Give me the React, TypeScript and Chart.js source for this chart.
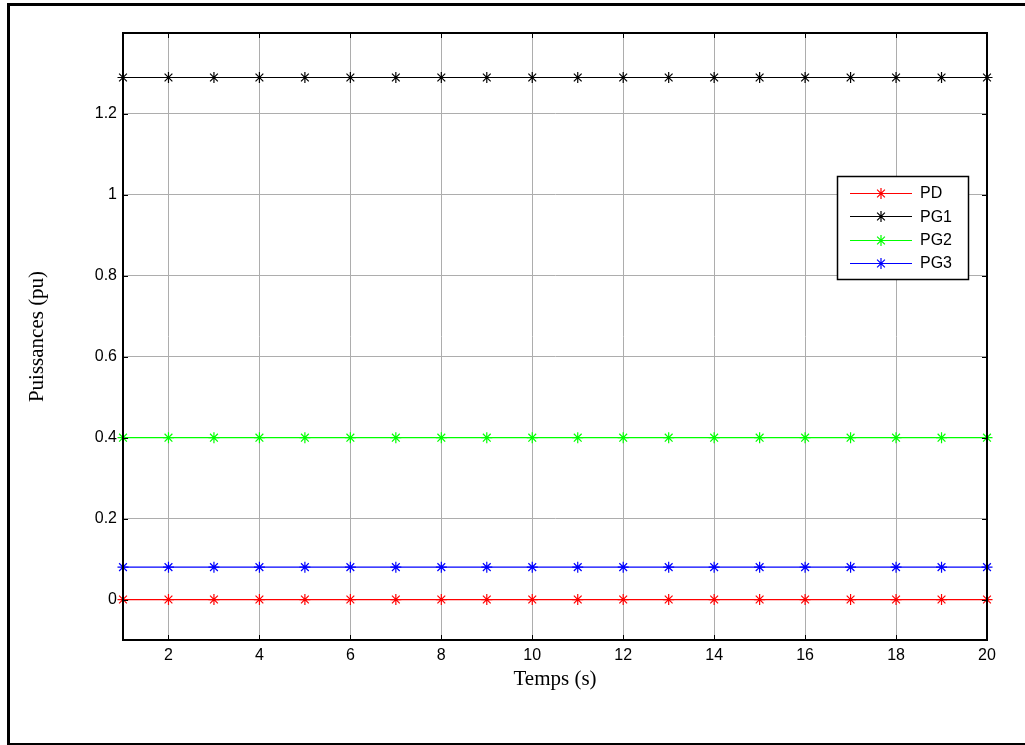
import React, { useEffect, useRef } from "react";
import { Chart, registerables } from "chart.js";

Chart.register(...registerables);

const timeSteps = [1, 2, 3, 4, 5, 6, 7, 8, 9, 10, 11, 12, 13, 14, 15, 16, 17, 18, 19, 20];
const pdValues = [0, 0, 0, 0, 0, 0, 0, 0, 0, 0, 0, 0, 0, 0, 0, 0, 0, 0, 0, 0];
const pg1Values = [1.29, 1.29, 1.29, 1.29, 1.29, 1.29, 1.29, 1.29, 1.29, 1.29, 1.29, 1.29, 1.29, 1.29, 1.29, 1.29, 1.29, 1.29, 1.29, 1.29];
const pg2Values = [0.4, 0.4, 0.4, 0.4, 0.4, 0.4, 0.4, 0.4, 0.4, 0.4, 0.4, 0.4, 0.4, 0.4, 0.4, 0.4, 0.4, 0.4, 0.4, 0.4];
const pg3Values = [0.08, 0.08, 0.08, 0.08, 0.08, 0.08, 0.08, 0.08, 0.08, 0.08, 0.08, 0.08, 0.08, 0.08, 0.08, 0.08, 0.08, 0.08, 0.08, 0.08];
const seriesNames = ["PD", "PG1", "PG2", "PG3"];
const seriesColors = ["#ff0000", "#000000", "#00ff00", "#0000ff"];
const xTickValues = [2, 4, 6, 8, 10, 12, 14, 16, 18, 20];
const yTickValues = [0, 0.2, 0.4, 0.6, 0.8, 1, 1.2];
const xTitle = "Temps (s)";
const yTitle = "Puissances (pu)";

const W = 1025;
const H = 745;

function drawStar(ctx: CanvasRenderingContext2D, x: number, y: number, r: number) {
  ctx.beginPath();
  for (let k = 0; k < 4; k++) {
    const a = (k * Math.PI) / 4;
    ctx.moveTo(x - r * Math.cos(a), y - r * Math.sin(a));
    ctx.lineTo(x + r * Math.cos(a), y + r * Math.sin(a));
  }
  ctx.stroke();
}

const framePlugin = {
  id: "frame",
  beforeDraw(chart: any) {
    const ctx = chart.ctx;
    ctx.save();
    ctx.fillStyle = "#ffffff";
    ctx.fillRect(0, 0, W, H);
    ctx.fillStyle = "#000000";
    ctx.fillRect(7, 3, 3, H - 3);
    ctx.fillRect(7, 3, W - 7, 3);
    ctx.fillRect(7, 743, W - 7, 2);
    ctx.restore();
  },
  afterDraw(chart: any) {
    const ctx = chart.ctx;
    const a = chart.chartArea;
    const xs = chart.scales.x;
    const ys = chart.scales.y;
    ctx.save();
    ctx.strokeStyle = "#000000";
    ctx.lineWidth = 2;
    ctx.strokeRect(a.left, a.top, a.right - a.left, a.bottom - a.top);
    ctx.lineWidth = 1;
    ctx.beginPath();
    const tl = 5;
    xTickValues.forEach((v) => {
      const px = Math.round(xs.getPixelForValue(v)) + 0.5;
      ctx.moveTo(px, a.bottom);
      ctx.lineTo(px, a.bottom - tl);
      ctx.moveTo(px, a.top);
      ctx.lineTo(px, a.top + tl);
    });
    yTickValues.forEach((v) => {
      const py = Math.round(ys.getPixelForValue(v)) + 0.5;
      ctx.moveTo(a.left, py);
      ctx.lineTo(a.left + tl, py);
      ctx.moveTo(a.right, py);
      ctx.lineTo(a.right - tl, py);
    });
    ctx.stroke();

    // legend
    const lx = 837;
    const ly = 176;
    const lw = 131;
    const lh = 103;
    ctx.fillStyle = "#ffffff";
    ctx.fillRect(lx, ly, lw, lh);
    ctx.strokeStyle = "#000000";
    ctx.lineWidth = 1.5;
    ctx.strokeRect(lx + 0.5, ly + 0.5, lw, lh);
    ctx.font = "16px 'Liberation Sans', Arial, sans-serif";
    ctx.textBaseline = "middle";
    ctx.textAlign = "left";
    chart.data.datasets.forEach((ds: any, i: number) => {
      const y = ly + 17 + i * 23.3;
      ctx.strokeStyle = ds.borderColor;
      ctx.lineWidth = 1.2;
      ctx.beginPath();
      ctx.moveTo(850, Math.round(y) + 0.5);
      ctx.lineTo(912, Math.round(y) + 0.5);
      ctx.stroke();
      drawStar(ctx, 881, Math.round(y) + 0.5, 5.5);
      ctx.fillStyle = "#000000";
      ctx.fillText(ds.label, 920, y + 1);
    });
    ctx.restore();
  },
};

export default function App() {
  const ref = useRef<HTMLCanvasElement | null>(null);
  useEffect(() => {
    if (!ref.current) return;
    const series = [pdValues, pg1Values, pg2Values, pg3Values];
    const datasets = series.map((vals, i) => ({
      label: seriesNames[i],
      data: timeSteps.map((t, j) => ({ x: t, y: vals[j] })),
      borderColor: seriesColors[i],
      backgroundColor: seriesColors[i],
      borderWidth: 1.2,
      pointStyle: "star",
      pointRadius: 5.5,
      pointBorderWidth: 1.2,
      pointBorderColor: seriesColors[i],
      clip: false,
      tension: 0,
    }));
    const chart = new Chart(ref.current, {
      type: "line",
      data: { datasets } as any,
      options: {
        animation: false,
        responsive: false,
        maintainAspectRatio: false,
        layout: { padding: { top: 33, right: 38, left: 0, bottom: 0 } },
        plugins: { legend: { display: false }, tooltip: { enabled: false } },
        scales: {
          x: {
            type: "linear",
            min: 1,
            max: 20,
            afterBuildTicks: (scale: any) => {
              scale.ticks = xTickValues.map((v) => ({ value: v }));
            },
            afterFit: (scale: any) => {
              scale.height = 105;
            },
            grid: { color: "#adadad", lineWidth: 1, drawTicks: false },
            border: { display: true, color: "#000000", width: 1 },
            ticks: {
              padding: 6,
              color: "#000000",
              font: { family: "'Liberation Sans', Arial, sans-serif", size: 16 },
              maxRotation: 0,
              callback: (v: any) => String(v),
            },
            title: {
              display: true,
              text: xTitle,
              color: "#000000",
              font: { family: "'Liberation Serif', 'Times New Roman', serif", size: 21 },
              padding: { top: 0, bottom: 53 },
            },
          },
          y: {
            type: "linear",
            min: -0.1,
            max: 1.4,
            afterBuildTicks: (scale: any) => {
              scale.ticks = yTickValues.map((v) => ({ value: v }));
            },
            afterFit: (scale: any) => {
              scale.width = 123;
            },
            grid: { color: "#adadad", lineWidth: 1, drawTicks: false },
            border: { display: true, color: "#000000", width: 1 },
            ticks: {
              padding: 6,
              color: "#000000",
              font: { family: "'Liberation Sans', Arial, sans-serif", size: 16 },
              callback: (v: any) => String(Number(Number(v).toFixed(1))),
            },
            title: {
              display: true,
              text: yTitle,
              color: "#000000",
              font: { family: "'Liberation Serif', 'Times New Roman', serif", size: 21 },
              padding: { top: 25, bottom: 0 },
            },
          },
        },
      },
      plugins: [framePlugin],
    });
    return () => chart.destroy();
  }, []);
  return (
    <div style={{ position: "fixed", left: 0, top: 0, width: W, height: H }}>
      <canvas ref={ref} width={W} height={H} style={{ width: W, height: H, display: "block" }} />
    </div>
  );
}
